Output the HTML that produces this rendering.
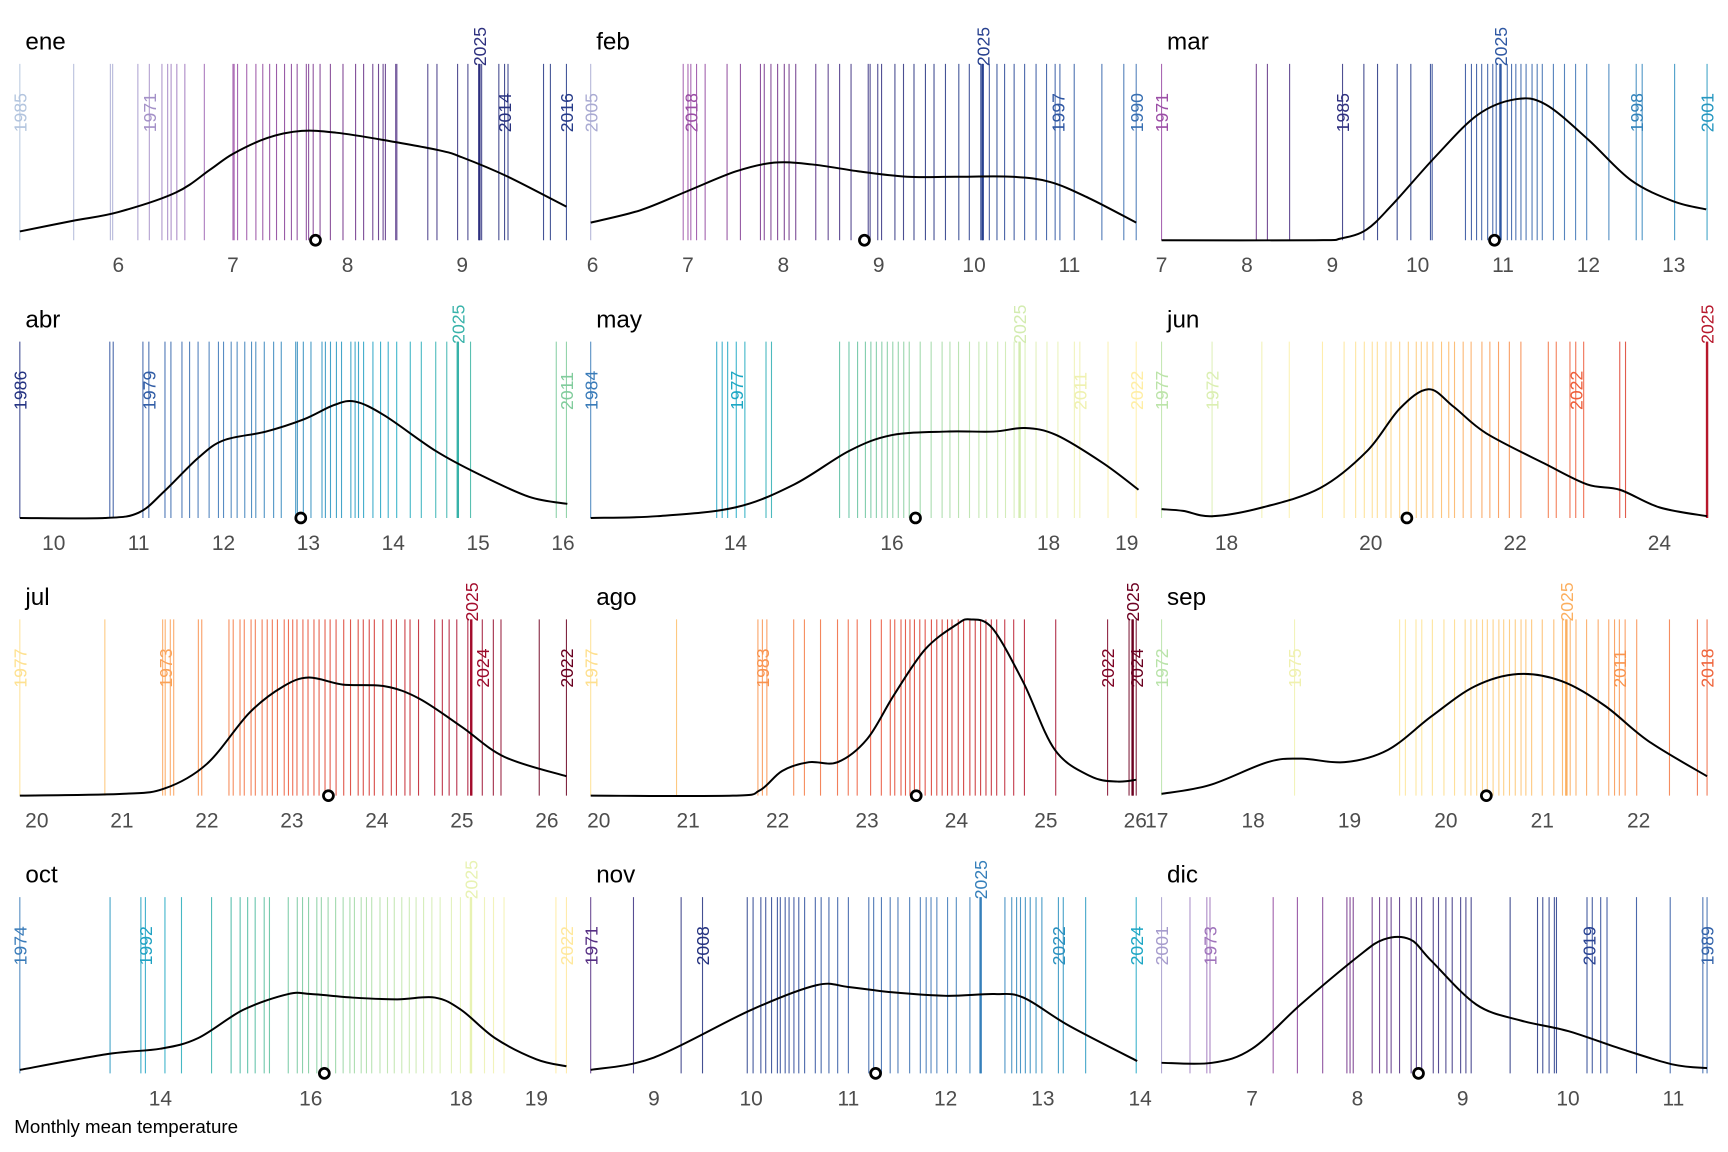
<!DOCTYPE html>
<html><head><meta charset="utf-8"><title>Monthly mean temperature</title>
<style>html,body{margin:0;padding:0;background:#fff}svg{display:block}text{font-family:"Liberation Sans",Arial,sans-serif}</style>
</head><body>
<svg id="chart" width="1728" height="1152" viewBox="0 0 1568 1045.33" preserveAspectRatio="none" xmlns="http://www.w3.org/2000/svg">
<rect width="1568" height="1045.33" fill="#fff"/>
<text x="13" y="1028" font-size="17" fill="#000">Monthly mean temperature</text>
</svg>
<script>
const months = ["ene","feb","mar","abr","may","jun","jul","ago","sep","oct","nov","dic"];
const temps = [
[5.14,5.61,5.93,5.95,6.17,6.27,6.38,6.43,6.46,6.51,6.58,6.75,7.0,7.01,7.04,7.12,7.2,7.26,7.32,7.38,7.45,7.51,7.56,7.64,7.66,7.7,7.76,7.85,7.96,8.07,8.14,8.22,8.27,8.31,8.33,8.42,8.43,8.7,8.78,8.96,9.05,9.15,9.17,9.32,9.37,9.4,9.71,9.77,9.91],
[5.98,6.95,7.0,7.03,7.09,7.18,7.41,7.55,7.76,7.8,7.87,7.94,8.01,8.06,8.13,8.34,8.47,8.59,8.71,8.89,8.91,8.99,9.03,9.17,9.26,9.37,9.49,9.58,9.7,9.84,9.95,10.07,10.09,10.16,10.24,10.32,10.42,10.53,10.65,10.76,10.85,10.9,11.05,11.34,11.57,11.7],
[7.0,8.11,8.24,8.5,9.12,9.37,9.53,9.76,9.92,10.15,10.17,10.56,10.63,10.69,10.75,10.82,10.88,10.92,10.97,11.05,11.1,11.15,11.21,11.27,11.34,11.4,11.46,11.59,11.72,11.85,11.98,12.24,12.56,12.63,13.01,13.39],
[9.6,10.66,10.7,11.05,11.12,11.31,11.38,11.51,11.6,11.7,11.83,11.94,12.0,12.09,12.16,12.25,12.33,12.38,12.48,12.59,12.68,12.85,12.87,12.94,13.03,13.16,13.2,13.26,13.33,13.39,13.5,13.55,13.59,13.65,13.76,13.85,13.94,14.04,14.2,14.33,14.5,14.63,14.76,14.91,15.92,16.04],
[12.15,13.76,13.83,13.9,14.01,14.12,14.39,14.46,15.33,15.45,15.56,15.66,15.73,15.8,15.87,15.94,16.01,16.08,16.15,16.22,16.36,16.5,16.64,16.74,16.85,16.99,17.11,17.21,17.35,17.45,17.56,17.63,17.7,17.84,17.98,18.12,18.33,18.4,18.76,19.12],
[17.1,17.8,18.49,18.87,19.33,19.63,19.79,19.91,20.02,20.09,20.21,20.28,20.4,20.52,20.63,20.7,20.78,20.86,20.98,21.08,21.16,21.28,21.39,21.54,21.65,21.77,21.92,22.08,22.46,22.57,22.76,22.84,22.95,23.45,23.53,24.66],
[19.8,20.8,21.48,21.51,21.57,21.61,21.9,21.94,22.26,22.31,22.39,22.44,22.52,22.57,22.65,22.71,22.77,22.83,22.91,22.96,23.01,23.06,23.13,23.19,23.26,23.32,23.39,23.45,23.52,23.61,23.69,23.78,23.84,23.91,23.97,24.07,24.17,24.23,24.33,24.39,24.49,24.68,24.77,24.85,24.94,25.07,25.11,25.24,25.37,25.46,25.91,26.23],
[19.91,20.87,21.78,21.83,21.88,22.18,22.3,22.48,22.67,22.79,22.89,23.04,23.16,23.26,23.31,23.38,23.43,23.48,23.53,23.59,23.65,23.72,23.78,23.84,23.9,23.95,24.02,24.08,24.15,24.21,24.27,24.33,24.39,24.45,24.54,24.64,24.76,25.11,25.69,25.93,25.97,26.01],
[17.05,18.43,19.52,19.58,19.69,19.75,19.86,19.98,20.09,20.2,20.26,20.32,20.38,20.43,20.49,20.55,20.6,20.66,20.72,20.78,20.83,20.89,21.0,21.12,21.21,21.25,21.29,21.35,21.46,21.58,21.69,21.75,21.8,21.86,21.98,22.32,22.61,22.71],
[12.13,13.33,13.74,13.8,14.06,14.28,14.68,14.94,15.06,15.16,15.26,15.38,15.45,15.7,15.82,15.89,15.97,16.08,16.14,16.23,16.33,16.43,16.52,16.58,16.67,16.74,16.81,16.92,17.02,17.11,17.21,17.31,17.4,17.5,17.61,17.72,17.87,17.99,18.13,18.31,18.43,18.57,19.26,19.4],
[8.35,8.79,9.28,9.5,9.96,10.02,10.1,10.15,10.21,10.27,10.3,10.35,10.39,10.44,10.49,10.55,10.66,10.72,10.8,10.89,11.0,11.21,11.26,11.34,11.43,11.51,11.63,11.74,11.8,11.85,11.91,12.02,12.11,12.25,12.36,12.61,12.68,12.73,12.77,12.82,12.87,12.93,12.99,13.16,13.21,13.44,13.96],
[6.14,6.41,6.57,6.6,7.2,7.43,7.67,7.9,7.93,7.96,8.14,8.21,8.28,8.32,8.4,8.51,8.56,8.61,8.72,8.77,8.84,8.9,8.98,9.03,9.08,9.45,9.71,9.76,9.82,9.87,9.89,10.18,10.23,10.31,10.37,10.65,10.97,11.28,11.32]
];
const labelYears = [
[1985,1971,2025,2014,2016],[2005,2018,2025,1997,1990],[1971,1985,2025,1998,2001],[1986,1979,2025,2011],
[1984,1977,2025,2011,2022],[1977,1972,2022,2025],[1977,1973,2025,2024,2022],[1977,1983,2022,2025,2024],
[1972,1975,2025,2011,2018],[1974,1992,2025,2022],[1971,2008,2025,2022,2024],[2001,1973,2019,1989]
];
const labelTemps = [
[5.14,6.27,9.15,9.37,9.91],[5.98,7.03,10.09,10.88,11.7],[7.0,9.12,10.97,12.56,13.39],[9.6,11.12,14.76,16.04],
[12.15,14.01,17.63,18.4,19.12],[17.1,17.8,22.84,24.66],[19.8,21.51,25.11,25.24,26.23],[19.91,21.83,25.69,25.97,26.01],
[17.05,18.43,21.25,21.8,22.71],[12.13,13.8,18.13,19.4],[8.35,9.5,12.36,13.16,13.96],[6.14,6.6,10.2,11.32]
];
const means = [7.72,8.85,10.9,12.91,16.3,20.5,23.43,23.55,20.42,16.18,11.28,8.58];
const ticks = [[6,7,8,9],[6,7,8,9,10,11],[7,8,9,10,11,12,13],[10,11,12,13,14,15,16],[14,16,18,19],[18,20,22,24],
[20,21,22,23,24,25,26],[20,21,22,23,24,25,26],[17,18,19,20,21,22],[14,16,18,19],[9,10,11,12,13,14],[7,8,9,10,11]];
const densX = [
[5.14,5.6,6,6.5,6.8,7.0,7.3,7.6,7.9,8.3,8.8,9.0,9.4,9.91],
[5.98,6.5,7,7.5,7.9,8.3,8.8,9.3,9.8,10.4,10.8,11.2,11.7],
[7,8.8,9.1,9.4,9.7,10.2,10.7,11.15,11.5,12,12.5,13,13.38],
[9.6,10.6,11,11.3,11.7,12,12.5,12.95,13.3,13.55,13.9,14.5,15,15.6,16.05],
[12.15,13,14,14.75,15.45,16,16.7,17.3,17.7,18.1,18.7,19.15],
[17.1,17.4,17.8,18.5,19.3,19.95,20.4,20.8,21.15,21.6,22.4,23,23.45,24,24.66],
[19.8,21,21.5,22,22.5,22.9,23.2,23.6,24.1,24.5,25,25.5,26.23],
[19.91,21.5,21.8,22.05,22.35,22.67,23,23.3,23.65,24,24.15,24.4,24.75,25.1,25.5,25.8,26.01],
[17.05,17.55,18.15,18.5,18.95,19.4,19.85,20.3,20.75,21.2,21.65,22.1,22.71],
[12.13,13.3,14,14.5,15.1,15.7,16,16.55,17.15,17.65,18,18.45,19,19.4],
[8.35,9,10,10.67,11,11.45,12,12.5,12.8,13.27,13.97],
[6.14,6.62,7,7.46,8,8.25,8.5,8.7,9.13,9.55,10,10.5,11,11.32]
];
const densY = [
[.05,.11,.16,.27,.40,.49,.58,.62,.61,.57,.51,.47,.36,.19],
[.10,.17,.28,.39,.44,.43,.39,.36,.36,.36,.33,.24,.10],
[0,0,.01,.06,.2,.47,.71,.80,.77,.57,.34,.22,.175],
[0,0,.03,.15,.34,.44,.49,.56,.64,.66,.58,.38,.25,.12,.08],
[0,.01,.06,.19,.38,.47,.49,.49,.51,.47,.31,.16],
[.05,.04,.01,.06,.17,.38,.62,.73,.63,.48,.31,.19,.16,.06,.01],
[0,.01,.04,.18,.47,.62,.67,.63,.62,.55,.39,.22,.11],
[0,0,.03,.14,.19,.19,.32,.57,.83,.97,1,.95,.64,.26,.11,.08,.09],
[.01,.06,.19,.21,.19,.26,.45,.62,.69,.65,.51,.31,.11],
[.02,.11,.14,.2,.36,.45,.45,.43,.42,.43,.36,.2,.08,.04],
[.02,.09,.36,.5,.49,.46,.44,.45,.43,.27,.07],
[.06,.06,.14,.39,.66,.76,.76,.64,.39,.3,.24,.14,.05,.03]
];
const palT = [5,6,6.5,7,8,8.7,9.5,10.5,12,13,14,15,16,17,18,19,20,21,22,23,24,25,26];
const palC = ["#b3c8e0","#a9a9d2","#a07cc0","#9b4ea6","#6e2d85","#3c2e80","#23317f","#2a4a9a","#3b78b8","#2b8cbe","#1ca7c4","#40b6a0","#7fcb9c","#b7e2a8","#e4f2b4","#fff0a8","#fedd8a","#fdbb66","#f88a48","#ec5637","#d02a25","#aa0d2e","#6a0020"];
function hex(c){return [1,3,5].map(i=>parseInt(c.substr(i,2),16));}
function colorFor(t){
  if(t<=palT[0])return palC[0];
  for(let i=1;i<palT.length;i++){ if(t<=palT[i]){const f=(t-palT[i-1])/(palT[i]-palT[i-1]);const a=hex(palC[i-1]),b=hex(palC[i]);
    return "rgb("+a.map((v,k)=>Math.round(v+(b[k]-v)*f)).join(",")+")";}}
  return palC[palC.length-1];
}
const NS="http://www.w3.org/2000/svg";
const svg=document.getElementById("chart");
function mk(tag,attrs,parent){const e=document.createElementNS(NS,tag);for(const k in attrs)e.setAttribute(k,attrs[k]);parent.appendChild(e);return e;}
const colX=[[18,514],[536,1031],[1054,1549]];
months.forEach((m,i)=>{
  const r=Math.floor(i/3),c=i%3;
  const x0=colX[c][0],x1=colX[c][1],top=58+r*252,bot=218+r*252,h=bot-top;
  const vals=temps[i];const lo=Math.min(...vals),hi=Math.max(...vals);
  const xs=t=>x0+(t-lo)/(hi-lo)*(x1-x0);
  const ys=d=>bot-d*h;
  const g=mk("g",{},svg);
  
  
  const title=mk("text",{x:x0+5,y:45+r*252,"font-size":22,fill:"#000"},g);
  title.textContent=m;
  
  
  vals.forEach(t=>{
    const ln=mk("line",{x1:xs(t),x2:xs(t),y1:top,y2:bot,stroke:colorFor(t),"stroke-width":1,"stroke-opacity":0.85},g);
    
    
  });
  labelYears[i].forEach((y,k)=>{
    const t=labelTemps[i][k];const x=xs(t);
    const is25=(y===2025);
    if(is25){
      const ln=mk("line",{x1:x,x2:x,y1:top,y2:bot,stroke:colorFor(t),"stroke-width":2.2},g);
      
      
    }
    const by=is25?(60+r*252):(120+r*252);
    const tx=mk("text",{x:0,y:0,"font-size":16,fill:colorFor(t),"text-anchor":"start",transform:"translate("+(x+6)+","+by+") rotate(-90)"},g);
    tx.textContent=y;
    
    
  });
  const pts=densX[i].map((t,k)=>xs(t).toFixed(1)+","+ys(densY[i][k]).toFixed(1));
  let d="M"+pts[0];
  const P=densX[i].map((t,k)=>[xs(t),ys(densY[i][k])]);
  for(let k=0;k<P.length-1;k++){
    const p0=P[Math.max(0,k-1)],p1=P[k],p2=P[k+1],p3=P[Math.min(P.length-1,k+2)];
    const c1=[p1[0]+(p2[0]-p0[0])/6,p1[1]+(p2[1]-p0[1])/6],c2=[p2[0]-(p3[0]-p1[0])/6,p2[1]-(p3[1]-p1[1])/6];
    d+=" C"+c1[0].toFixed(1)+","+c1[1].toFixed(1)+" "+c2[0].toFixed(1)+","+c2[1].toFixed(1)+" "+p2[0].toFixed(1)+","+p2[1].toFixed(1);
  }
  const cv=mk("path",{d:d,fill:"none",stroke:"#000","stroke-width":1.8},g);
  
  
  const mc=mk("circle",{cx:xs(means[i]),cy:bot,r:4.5,fill:"#fff",stroke:"#000","stroke-width":2.5},g);
  
  
  ticks[i].forEach(tk=>{
    const tl=mk("text",{x:xs(tk),y:247+r*252,"font-size":19,fill:"#4d4d4d","text-anchor":"middle"},g);
    tl.textContent=tk;
    
    
  });
});
</script>
</body></html>
